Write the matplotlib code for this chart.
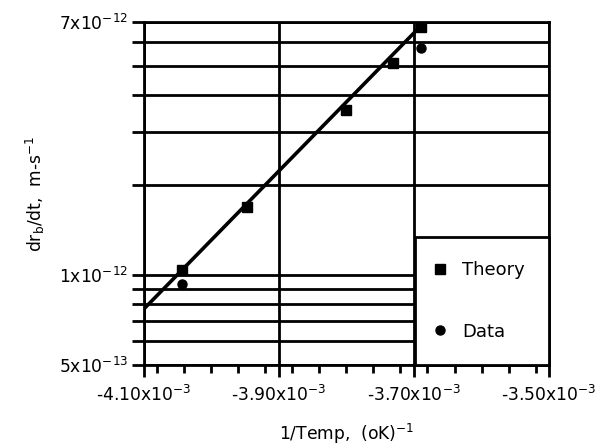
import matplotlib
matplotlib.use("Agg")
import matplotlib.pyplot as plt
from matplotlib.ticker import FixedLocator, FixedFormatter, MultipleLocator, NullFormatter

plt.rcParams['font.family'] = ['DejaVu Sans']
plt.rcParams['mathtext.default'] = 'regular'
plt.rcParams['font.size'] = 12.3

# values
theory_x = [-4.044e-3, -3.947e-3, -3.800e-3, -3.731e-3, -3.689e-3]
theory_y = [1.04e-12, 1.68e-12, 3.55e-12, 5.09e-12, 6.75e-12]
data_x = [-4.044e-3, -3.689e-3]
data_y = [0.93e-12, 5.72e-12]
# fitted line drawn across the plot
fit_x = [-4.10e-3, -3.675e-3]
fit_y = [7.7e-13, 7.35e-12]

x_ticks = [-4.10e-3, -3.90e-3, -3.70e-3, -3.50e-3]
x_labels = [r'-4.10x10$^{-3}$', r'-3.90x10$^{-3}$', r'-3.70x10$^{-3}$', r'-3.50x10$^{-3}$']
y_ticks = [5e-13, 1e-12, 7e-12]
y_labels = [r'5x10$^{-13}$', r'1x10$^{-12}$', r'7x10$^{-12}$']
y_minor = [6e-13, 7e-13, 8e-13, 9e-13, 2e-12, 3e-12, 4e-12, 5e-12, 6e-12]

fig = plt.figure(figsize=(5.97, 4.45), dpi=100)
ax = fig.add_axes([0.2412, 0.1798, 0.6784, 0.7708])

ax.plot(fit_x, fit_y, color='black', lw=2.6, zorder=3)
ax.plot(theory_x, theory_y, 's', color='black', ms=7.5, zorder=4, label='Theory')
ax.plot(data_x, data_y, 'o', color='black', ms=6.5, zorder=4, label='Data')

ax.set_yscale('log')
ax.set_xlim(-4.10e-3, -3.50e-3)
ax.set_ylim(5e-13, 7e-12)

ax.xaxis.set_major_locator(FixedLocator(x_ticks))
ax.xaxis.set_major_formatter(FixedFormatter(x_labels))
ax.xaxis.set_minor_locator(MultipleLocator(0.04e-3))
ax.yaxis.set_major_locator(FixedLocator(y_ticks))
ax.yaxis.set_major_formatter(FixedFormatter(y_labels))
ax.yaxis.set_minor_locator(FixedLocator(y_minor))
ax.yaxis.set_minor_formatter(NullFormatter())

ax.grid(which='major', axis='x', color='black', lw=2.0)
ax.grid(which='both', axis='y', color='black', lw=2.0)
ax.set_axisbelow(True)

ax.tick_params(axis='x', which='major', direction='out', length=8.6, width=2.0, pad=6)
ax.tick_params(axis='x', which='minor', direction='out', length=6, width=2.0)
ax.tick_params(axis='y', which='both', direction='out', length=8.6, width=2.0, pad=3)
for s in ax.spines.values():
    s.set_linewidth(2.0)

ax.set_xlabel(r'1/Temp,  (oK)$^{-1}$', labelpad=12)
ax.set_ylabel(r'dr$_b$/dt,  m-s$^{-1}$', labelpad=8)

leg = ax.legend(loc='lower right', bbox_to_anchor=(1, 0), borderaxespad=0,
                fancybox=False, framealpha=1, edgecolor='black',
                borderpad=1.35, labelspacing=2.4, handlelength=0.06,
                handletextpad=1.2, numpoints=1, fontsize=13)
leg.get_frame().set_linewidth(2.0)
leg.set_zorder(5)

fig.savefig('out.png', dpi=100)
